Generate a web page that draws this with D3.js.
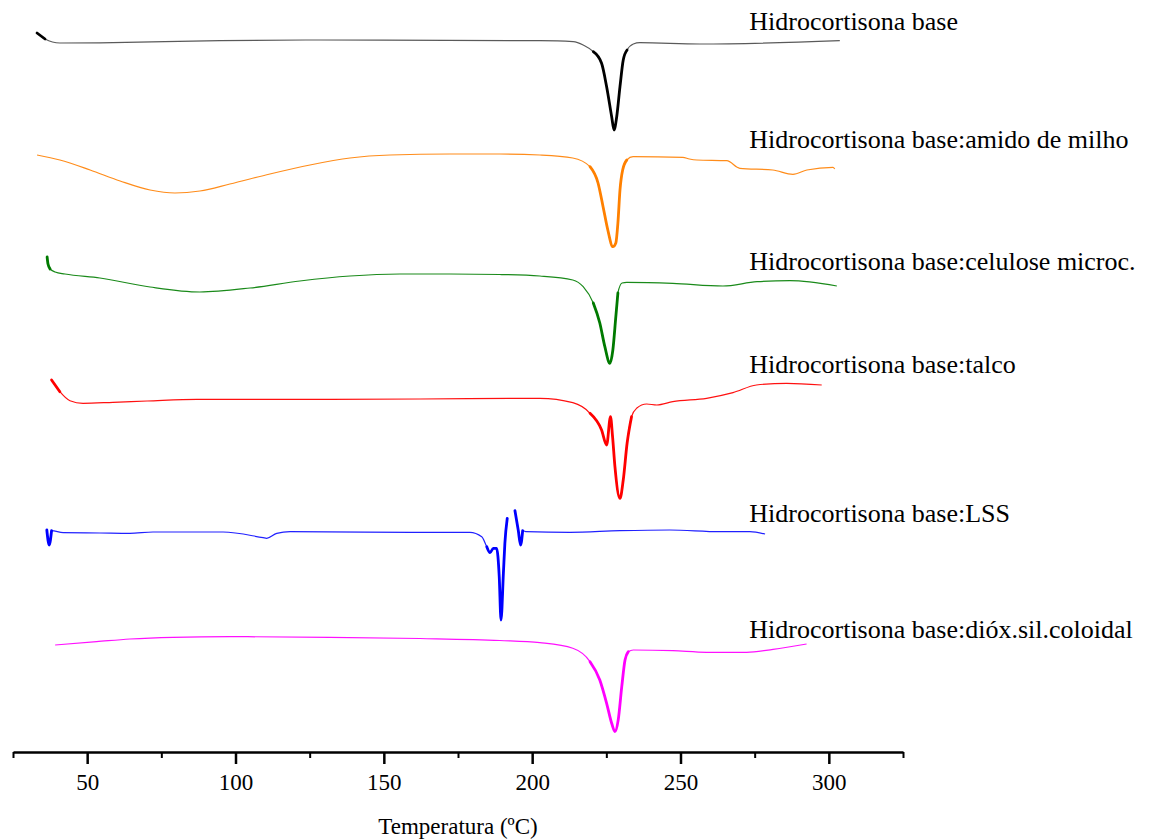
<!DOCTYPE html>
<html>
<head>
<meta charset="utf-8">
<script src="https://cdn.jsdelivr.net/npm/d3@7"></script>
<style>
  body { margin: 0; background: #fff; }
  svg { display: block; }
  text { font-family: "Liberation Serif", "Times New Roman", serif; fill: #000; }
</style>
</head>
<body>
<svg width="1150" height="839"></svg>
<script>
// DSC curves, stacked, heat flow in arbitrary units (no y axis in the original)

var names = [
  "Hidrocortisona base",
  "Hidrocortisona base:amido de milho",
  "Hidrocortisona base:celulose microc.",
  "Hidrocortisona base:talco",
  "Hidrocortisona base:LSS",
  "Hidrocortisona base:dióx.sil.coloidal"
];

var majorTicks = [50, 100, 150, 200, 250, 300];
var minorTicks = [25, 75, 125, 175, 225, 275, 325];

// [temperature ºC, signal a.u.]
var hcBase = [
  [33.1, 71.9], [35.8, 71.3], [40.8, 70.9], [54.3, 70.92], [94.8, 71.13],
  [128.5, 71.2], [202.6, 71.13], [213.8, 71.03], [217.2, 70.7], [220.6, 70.03],
  [223.4, 68.87], [225.1, 66.53], [226.8, 63.53], [227.6, 62.2], [228.5, 63.53],
  [229.6, 66.53], [230.7, 69.2], [232.0, 70.2], [234.1, 70.8], [236.3, 70.93],
  [256.5, 70.8], [303.7, 71.13]
];

var hcAmido = [
  [33.1, 59.7], [40.8, 59.2], [51.0, 58.2], [61.1, 57.1], [71.2, 56.2],
  [79.6, 55.9], [88.0, 56.1], [98.1, 56.8], [111.6, 57.8], [125.1, 58.7],
  [138.6, 59.4], [152.1, 59.7], [172.3, 59.8], [189.1, 59.8], [202.6, 59.7],
  [213.7, 59.4], [219.5, 58.53], [222.2, 56.9], [223.9, 54.53], [225.5, 52.2],
  [227.2, 50.53], [228.2, 50.9], [228.9, 52.9], [229.6, 56.2], [230.5, 58.2],
  [231.9, 59.2], [234.0, 59.53], [250.8, 59.47], [253.0, 59.3], [255.5, 59.2],
  [265.6, 59.13], [270.0, 58.37], [281.1, 58.2], [287.9, 57.77], [292.6, 58.2],
  [301.4, 58.47], [302.0, 58.3]
];

var hcCelulose = [
  [36.5, 49.5], [36.8, 48.8], [37.5, 48.3], [39.2, 48.0], [42.5, 47.8],
  [54.3, 47.4], [71.2, 46.5], [88.0, 46.0], [104.9, 46.4], [121.7, 47.1],
  [138.6, 47.6], [155.4, 47.8], [172.3, 47.8], [189.1, 47.75], [202.6, 47.6],
  [213.7, 47.2], [217.2, 46.53], [220.6, 44.9], [222.8, 42.9], [224.5, 40.53],
  [226.2, 38.87], [227.2, 40.2], [228.2, 43.53], [228.9, 45.9], [230.3, 46.9],
  [231.9, 46.97], [247.4, 46.87], [264.3, 46.6], [275.8, 47.03], [286.9, 47.13],
  [302.7, 46.6]
];

var hcTalco = [
  [38.0, 37.2], [40.8, 36.03], [44.2, 35.13], [48.6, 34.87], [58.7, 34.97],
  [70.2, 35.1], [87.0, 35.27], [109.3, 35.27], [131.8, 35.27], [162.2, 35.3],
  [202.6, 35.37], [213.7, 34.93], [219.5, 33.87], [223.4, 32.2], [225.1, 30.7],
  [226.4, 33.53], [227.1, 31.53], [227.9, 28.53], [229.6, 25.37], [230.7, 27.2],
  [232.0, 30.87], [233.5, 33.53], [235.2, 34.37], [238.6, 34.8], [242.0, 34.7],
  [247.4, 35.03], [258.8, 35.37], [267.7, 35.93], [275.6, 36.7], [285.8, 36.87],
  [297.6, 36.7]
];

// null marks the break in the recorded signal
var hcLSS = [
  [36.4, 22.2], [37.2, 20.7], [38.0, 22.13], [41.9, 21.93], [54.3, 21.9],
  [64.4, 21.87], [72.2, 22.0], [95.8, 22.0], [109.3, 21.43], [110.5, 21.37],
  [113.9, 21.87], [118.4, 22.03], [162.2, 21.97], [179.0, 21.97], [183.0, 21.53],
  [184.7, 20.53], [185.8, 19.93], [186.9, 20.37], [188.0, 20.37], [188.9, 17.53],
  [189.5, 13.2], [190.3, 17.87], [190.8, 20.87], [191.6, 23.37], [192.9, null],
  [194.2, 24.13], [195.3, 22.2], [196.1, 20.7], [196.8, 22.13], [198.1, 22.03],
  [212.7, 21.97], [229.6, 22.13], [246.4, 22.2], [263.3, 22.03], [273.4, 22.03],
  [278.5, 21.8]
];

var hcDioxido = [
  [39.2, 10.7], [53.2, 11.03], [64.4, 11.3], [78.9, 11.47], [98.1, 11.53],
  [131.8, 11.47], [162.2, 11.35], [189.1, 11.15], [202.6, 10.93], [213.7, 10.37],
  [219.5, 9.03], [222.8, 7.2], [225.1, 4.87], [226.8, 2.87], [227.9, 2.03],
  [229.0, 3.2], [230.2, 6.53], [231.3, 9.2], [232.4, 10.03], [234.1, 10.2],
  [247.4, 10.13], [258.8, 9.97], [272.3, 9.97], [281.2, 10.27], [292.5, 10.8]
];

var curves = [hcBase, hcAmido, hcCelulose, hcTalco, hcLSS, hcDioxido];
// signal level at which each name sits (label baseline)
var labelLevel = [72.2, 60.4, 48.2, 37.9, 23.0, 11.4];

var colors = ["#5a5a5a", "#ff8c1a", "#1a8a1a", "#ff1010", "#2020ff", "#ff10ff"];
var heavyColors = ["#000", "#ff8000", "#007a00", "#ff0000", "#0000ff", "#ff00ff"];
// where the recorded line looks heavy (steep parts)
var heavy = [[[33, 36], [219, 233]], [[219, 232]], [[36, 38], [219.5, 230]],
             [[37, 41], [219.5, 234]], [[36, 38.5], [184, 198]], [[219, 233]]];

var svg = d3.select("svg"),
    width = +svg.attr("width"),
    height = +svg.attr("height");

var x = d3.scaleLinear().domain([25, 325]).range([13, 903]);
var y = d3.scaleLinear().domain([0, 75.2]).range([752, 0]);

var line = d3.line()
    .defined(function(d) { return d[1] !== null; })
    .x(function(d) { return x(d[0]); })
    .y(function(d) { return y(d[1]); })
    .curve(d3.curveMonotoneX);

var g = svg.append("g").attr("class", "curves");

curves.forEach(function(c, i) {
  g.append("path")
      .attr("d", line(c))
      .attr("fill", "none")
      .attr("stroke", colors[i])
      .attr("stroke-width", 1.2)
      .attr("stroke-linejoin", "round");

  heavy[i].forEach(function(r) {
    var part = c.filter(function(d) { return d[0] >= r[0] && d[0] <= r[1]; });
    g.append("path")
        .attr("d", line(part))
        .attr("fill", "none")
        .attr("stroke", heavyColors[i])
        .attr("stroke-width", 2.8)
        .attr("stroke-linejoin", "round")
        .attr("stroke-linecap", "round");
  });

  svg.append("text")
      .attr("x", x(273.2))
      .attr("y", y(labelLevel[i]))
      .attr("font-size", 26)
      .text(names[i]);
});

// x axis: labelled ticks every 50, short ones in between
var axisY = y(0);

svg.append("g")
    .attr("transform", "translate(0," + axisY + ")")
    .call(d3.axisBottom(x).tickValues(minorTicks).tickSize(6).tickSizeOuter(0).tickFormat(""))
    .call(function(a) { a.select(".domain").remove(); })
    .selectAll("line").attr("stroke", "#000").attr("stroke-width", 2);

var xAxis = svg.append("g")
    .attr("transform", "translate(0," + axisY + ")")
    .call(d3.axisBottom(x).tickValues(majorTicks).tickSize(12).tickSizeOuter(0).tickPadding(10));

xAxis.select(".domain").attr("stroke", "#000").attr("stroke-width", 2.5);
xAxis.selectAll(".tick line").attr("stroke", "#000").attr("stroke-width", 2.5);
xAxis.selectAll(".tick text")
    .attr("font-family", "Liberation Serif, Times New Roman, serif")
    .attr("font-size", 23)
    .attr("fill", "#000");

svg.append("text")
    .attr("x", (x.range()[0] + x.range()[1]) / 2)
    .attr("y", axisY + 82)
    .attr("text-anchor", "middle")
    .attr("font-size", 23)
    .text("Temperatura (ºC)");
</script>
</body>
</html>
